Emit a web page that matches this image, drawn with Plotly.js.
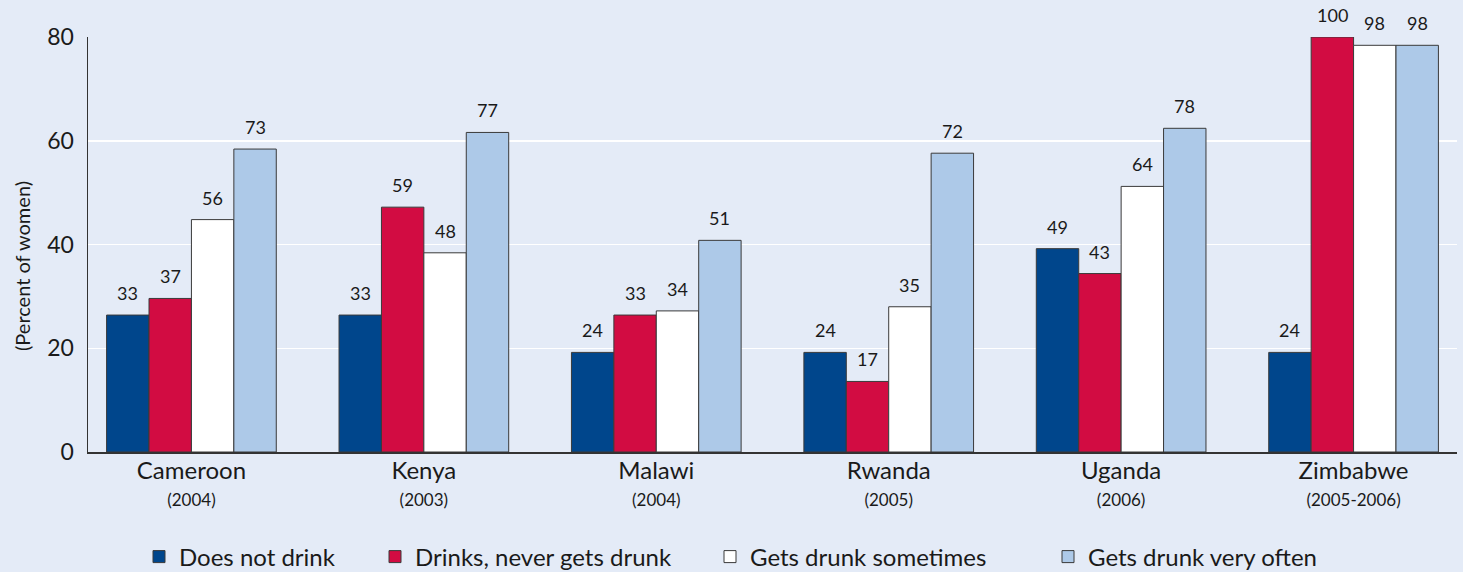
<!DOCTYPE html>
<html>
<head>
<meta charset="utf-8">
<script src="https://cdn.plot.ly/plotly-3.0.1.min.js"></script>
<style>html,body{margin:0;padding:0;background:#e4ebf7;}#chart{width:1463px;height:572px;}</style>
</head>
<body>
<div id="chart"></div>
<script>
const countries = ["Cameroon", "Kenya", "Malawi", "Rwanda", "Uganda", "Zimbabwe"];
const years = ["(2004)", "(2003)", "(2004)", "(2005)", "(2006)", "(2005-2006)"];
const seriesNames = ["Does not drink", "Drinks, never gets drunk", "Gets drunk sometimes", "Gets drunk very often"];
const doesNotDrink = [33, 33, 24, 24, 49, 24];
const drinksNeverDrunk = [37, 59, 33, 17, 43, 100];
const drunkSometimes = [56, 48, 34, 35, 64, 98];
const drunkVeryOften = [73, 77, 51, 72, 78, 98];
const yTickVals = [0, 25, 50, 75, 100];
const yTickText = ["0", "20", "40", "60", "80"];

const colors = ["#00468c", "#d20c42", "#ffffff", "#adc9e8"];
const seriesValues = [doesNotDrink, drinksNeverDrunk, drunkSometimes, drunkVeryOften];
const font = "Lato, 'Open Sans', sans-serif";

const W = 1463, H = 572;
const M = {l: 88, r: 6, t: 37, b: 120};
const xRange = [-0.445, 5.445];
const bargap = 0.27;
const nSeries = seriesValues.length;
const pxPerCat = (W - M.l - M.r) / (xRange[1] - xRange[0]);
const barPx = pxPerCat * (1 - bargap) / nSeries;
// left edge (px) of each legend entry
const legendLeft = [139, 375, 710, 1048];
const legendIds = ["legend", "legend2", "legend3", "legend4"];

const traces = seriesValues.map((vals, i) => ({
  type: "bar",
  name: seriesNames[i],
  x: countries,
  y: vals,
  legend: legendIds[i],
  marker: {color: colors[i], line: {color: "#3a3a3a", width: 1}},
  hoverinfo: "skip"
}));

const annotations = [];
seriesValues.forEach((vals, i) => {
  vals.forEach((v, j) => {
    annotations.push({
      x: countries[j], y: v, xref: "x", yref: "y",
      text: String(v), showarrow: false,
      xanchor: "center", yanchor: "bottom",
      xshift: (i - (nSeries - 1) / 2) * barPx, yshift: 9,
      font: {size: 18, color: "#1a1a1a", family: font}
    });
  });
});
annotations.push({
  text: "(Percent of women)", textangle: -90, showarrow: false,
  xref: "paper", yref: "paper", x: (22 - M.l) / (W - M.l - M.r), y: (H - M.b - 266) / (H - M.t - M.b),
  xanchor: "center", yanchor: "middle",
  font: {size: 20, color: "#1a1a1a", family: font}
});

const layout = {
  width: W, height: H,
  paper_bgcolor: "#e4ebf7",
  plot_bgcolor: "#e4ebf7",
  margin: M,
  barmode: "group",
  bargap: bargap,
  bargroupgap: 0,
  font: {family: font, color: "#1a1a1a"},
  showlegend: true,
  annotations: annotations,
  xaxis: {
    type: "category",
    range: xRange,
    tickvals: countries,
    ticktext: countries.map((c, i) => "<span style='font-size:24px'>" + c + "</span><br><span style='font-size:17px'>" + years[i] + "</span>"),
    tickfont: {size: 21, color: "#1a1a1a"},
    showline: true, linecolor: "#333333", linewidth: 1.5,
    ticks: "", showgrid: false, zeroline: false
  },
  yaxis: {
    range: [0, 100],
    tickvals: yTickVals,
    ticktext: yTickText,
    tickfont: {size: 23, color: "#1a1a1a"},
    ticks: "outside", ticklen: 8, tickcolor: "rgba(0,0,0,0)",
    showline: true, linecolor: "#333333", linewidth: 1.5,
    showgrid: true, gridcolor: "#ffffff", gridwidth: 1.5,
    zeroline: false
  }
};
legendIds.forEach((id, i) => {
  layout[id] = {
    orientation: "h", x: legendLeft[i] / W, xref: "container", xanchor: "left",
    y: 15 / H, yref: "container", yanchor: "middle",
    font: {size: 24, color: "#1a1a1a"}, bgcolor: "rgba(0,0,0,0)",
    itemclick: false
  };
});

Plotly.newPlot("chart", traces, layout, {displayModeBar: false, staticPlot: true});
</script>
</body>
</html>
